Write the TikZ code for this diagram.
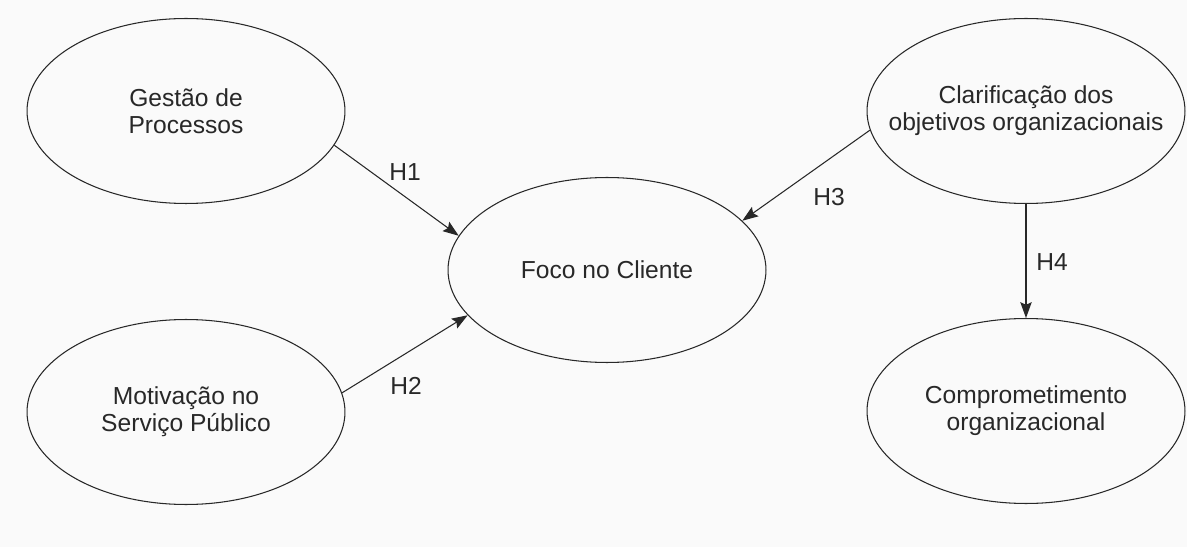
\documentclass[tikz,border=0pt]{standalone}
\usepackage{fontspec}
\setmainfont{Liberation Sans}
\usetikzlibrary{arrows.meta,positioning,shapes.geometric}
\definecolor{inkcolor}{RGB}{40,40,40}
\definecolor{paper}{RGB}{250,250,250}

\begin{document}
\begin{tikzpicture}[x=0.02cm, y=-0.02cm, >={Stealth[length=9pt,width=6.5pt,inset=1.5pt]},
    construct/.style={ellipse, draw=inkcolor, line width=0.6pt, inner sep=0pt,
      minimum width=6.36cm, minimum height=3.7cm, align=center,
      text=inkcolor, font=\fontsize{14}{15.5}\selectfont},
    hyp/.style={->, inkcolor, line width=0.6pt},
    hlabel/.style={text=inkcolor, font=\fontsize{14}{15.5}\selectfont}]
    % --- canvas ---
    \fill[paper] (0,0) rectangle (1187,547);
    \useasboundingbox (0,0) rectangle (1187,547);
    % --- constructs ---
    \node[construct] (gp) at (186,111) {Gestão de\\Processos};
    \node[construct] (msp) at (186,412) {Motivação no\\Serviço Público};
    \node[construct] (fc) at (607,270) {Foco no Cliente};
    \node[construct, inner xsep=-0.6cm] (cob) at (1026,111) {Clarificação dos\\objetivos organizacionais};
    \node[construct] (co) at (1026,411) {Comprometimento\\organizacional};
    % --- hypotheses ---
    \draw[hyp] (gp.-13) -- (fc.167);
    \draw[hyp] (msp.7) -- (fc.198);
    \draw[hyp] (cob.187.5) -- (fc.20);
    \draw[hyp] (cob.south) -- (co.north);
    \node[hlabel] (h1) at (405,172) {H1};
    \node[hlabel] (h2) at (406,386) {H2};
    \node[hlabel] (h3) at (829,197) {H3};
    \node[hlabel] (h4) at (1052,262) {H4};
  \end{tikzpicture}
\end{document}
